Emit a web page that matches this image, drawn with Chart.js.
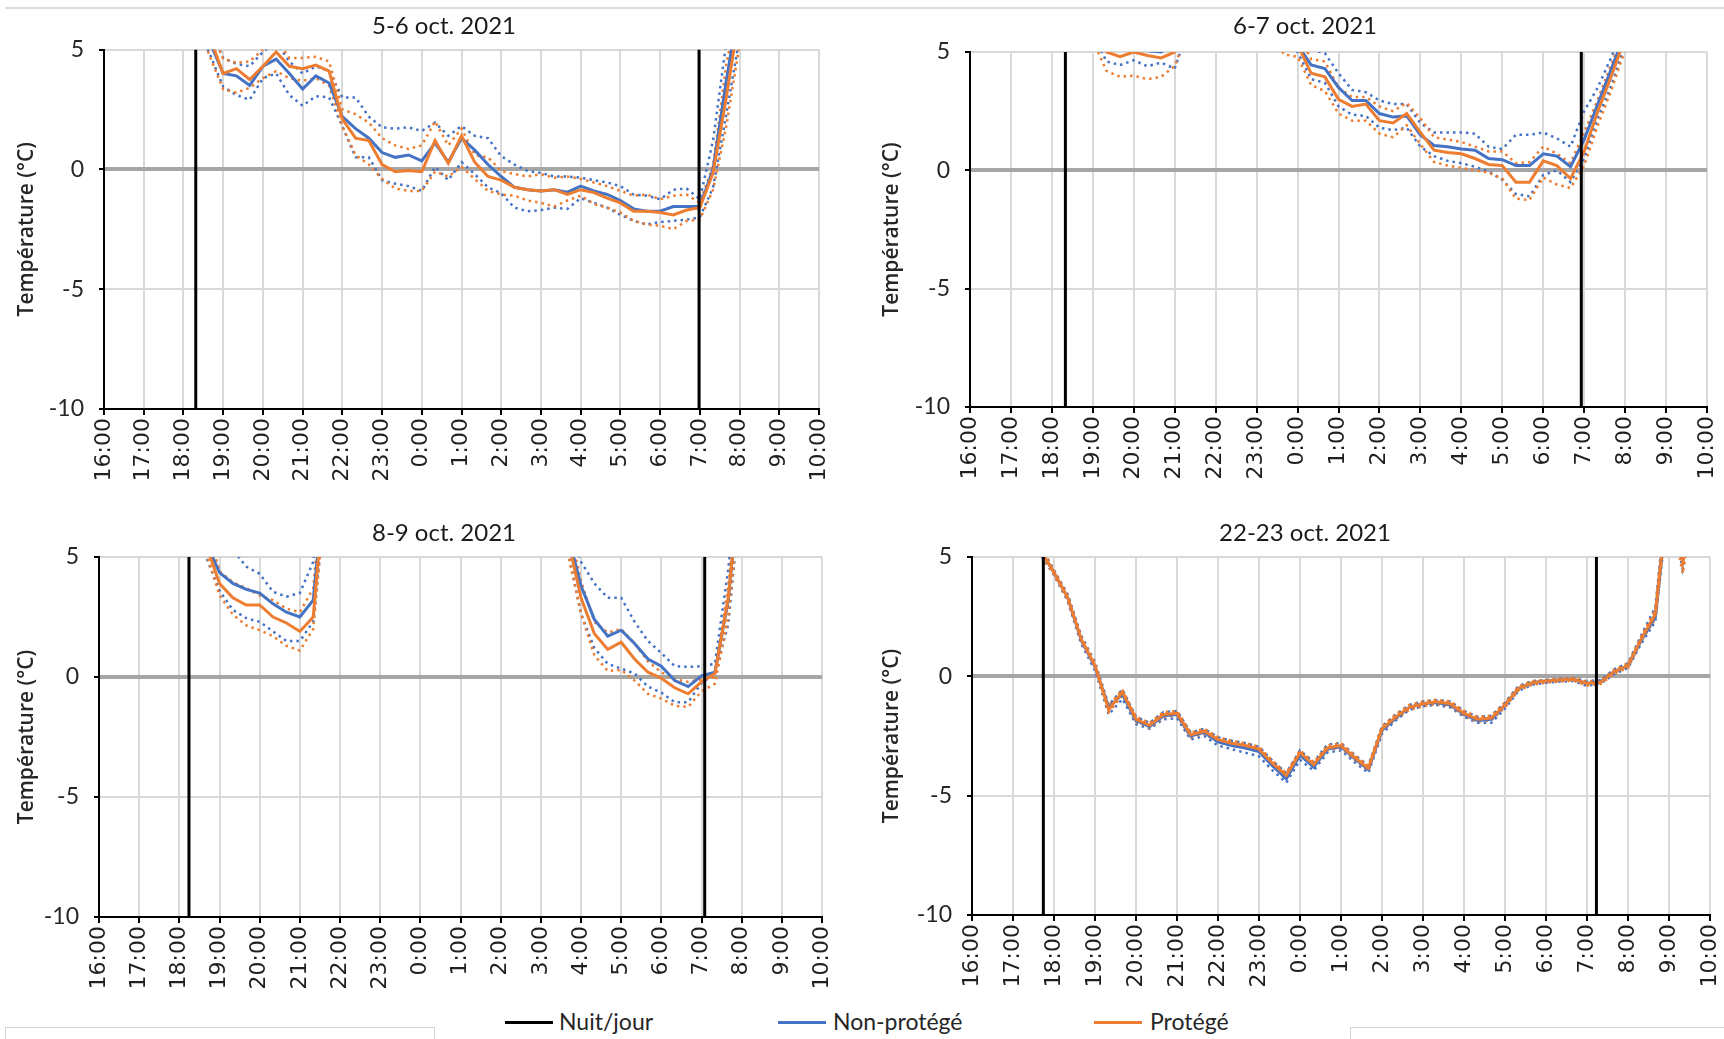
<!DOCTYPE html>
<html>
<head>
<meta charset="utf-8">
<title>Température nuit/jour</title>
<script src="https://cdn.jsdelivr.net/npm/chart.js@4.4.1/dist/chart.umd.min.js"></script>
<style>
	body { margin: 0; width: 1724px; height: 1039px; overflow: hidden; background: #fff; position: relative; }
	canvas { position: absolute; }
	.topline { position: absolute; left: 5px; right: 0; top: 7px; height: 2px; background: #dcdcdc; }
	.box { position: absolute; top: 1027px; height: 30px; border: 1.5px solid #d4d4d4; }
	.key-line { position: absolute; top: 1021px; width: 48px; height: 3px; }
	.key-text { position: absolute; top: 1007px; font: 23px Lato, 'Liberation Sans', sans-serif; color: #262626; white-space: nowrap; }
</style>
</head>
<body>
<div class="topline"></div>

<canvas id="c1" width="888" height="489" style="left:0px;top:0px;width:888px;height:489px"></canvas>
<canvas id="c2" width="870" height="487" style="left:870px;top:0px;width:870px;height:487px"></canvas>
<canvas id="c3" width="888" height="497" style="left:0px;top:500px;width:888px;height:497px"></canvas>
<canvas id="c4" width="870" height="495" style="left:870px;top:500px;width:870px;height:495px"></canvas>

<div class="box" style="left:5px;width:428px"></div>
<div class="box" style="left:1350px;width:380px"></div>

<div class="key-line" style="left:505px;background:#000"></div>
<div class="key-text" style="left:559px">Nuit/jour</div>
<div class="key-line" style="left:778px;background:#4472C4"></div>
<div class="key-text" style="left:833px">Non-protégé</div>
<div class="key-line" style="left:1094px;background:#ED7D31"></div>
<div class="key-text" style="left:1150px">Protégé</div>

<script>
//+++++++++++++++++++++++ Start:data +++++++++++++++++++++++
var hourLabels = ['16:00', '17:00', '18:00', '19:00', '20:00', '21:00', '22:00', '23:00', '0:00', '1:00',
	'2:00', '3:00', '4:00', '5:00', '6:00', '7:00', '8:00', '9:00', '10:00'];
var titles = ['5-6 oct. 2021', '6-7 oct. 2021', '8-9 oct. 2021', '22-23 oct. 2021'];

// x is in hours after 16:00, readings every 20 min
var STEP = 1 / 3;
var seriesStart = [2 + 1 / 3, 3, 2 + 1 / 3, 1 + 1 / 3];
var nightStart = [2.31, 2.33, 2.24, 1.74];
var dayStart = [14.98, 14.93, 15.08, 15.23];

// 5-6 oct., from 18:20
var p1Blue = [6.5, 5.3, 4.0, 3.9, 3.5, 4.3, 4.6, 4.0, 3.35, 3.9, 3.6, 2.2, 1.7, 1.3, 0.7, 0.5, 0.6, 0.35, 1.1, 0.3, 1.3,
	0.8, 0.2, -0.3, -0.75, -0.85, -0.9, -0.85, -0.95, -0.7, -0.9, -1.05, -1.3, -1.65, -1.75, -1.75, -1.55, -1.55, -1.55, 0.0, 3.7, 7.0];
var p1Orange = [6.8, 5.5, 4.0, 4.2, 3.75, 4.3, 4.9, 4.3, 4.2, 4.35, 4.1, 2.1, 1.3, 1.2, 0.2, -0.1, -0.05, -0.1, 1.2, 0.25, 1.4,
	0.3, -0.3, -0.45, -0.75, -0.85, -0.9, -0.85, -1.05, -0.85, -0.97, -1.2, -1.4, -1.75, -1.75, -1.8, -1.9, -1.7, -1.6, -0.15, 3.0, 6.5];
var p1BlueHi = [7.2, 5.8, 4.65, 4.4, 4.3, 4.9, 5.3, 4.5, 4.0, 4.3, 4.1, 3.0, 3.0, 2.2, 1.75, 1.7, 1.75, 1.6, 1.95, 1.4, 1.8,
	1.4, 1.3, 0.55, 0.2, -0.07, -0.15, -0.3, -0.3, -0.35, -0.45, -0.55, -0.7, -1.05, -1.1, -1.25, -0.85, -0.8, -1.25, 1.2, 5.3, 8.0];
var p1BlueLo = [6.0, 4.8, 3.45, 3.1, 2.9, 3.8, 4.0, 3.1, 2.65, 3.05, 3.0, 1.8, 0.5, 0.5, -0.45, -0.6, -0.7, -0.9, 0.1, -0.45, 0.3,
	-0.2, -0.75, -1.0, -1.6, -1.75, -1.7, -1.6, -1.65, -1.2, -1.4, -1.6, -1.9, -2.15, -2.3, -2.2, -2.15, -2.1, -2.0, -0.75, 2.3, 5.5];
var p1OrangeHi = [7.2, 6.0, 4.6, 4.45, 4.5, 5.0, 5.4, 4.65, 4.65, 4.7, 4.5, 2.5, 2.3, 1.95, 1.3, 1.0, 0.85, 1.0, 2.0, 1.0, 1.7,
	0.6, 0.5, -0.07, -0.2, -0.3, -0.2, -0.35, -0.3, -0.4, -0.55, -0.7, -0.9, -1.1, -1.05, -1.25, -1.1, -1.05, -1.4, 0.15, 4.4, 7.0];
var p1OrangeLo = [6.2, 4.7, 3.35, 3.2, 3.4, 3.8, 4.1, 3.8, 3.7, 3.8, 3.5, 1.8, 0.6, 0.2, -0.4, -0.8, -0.9, -0.9, -0.1, -0.3, 0.1,
	-0.4, -0.9, -1.05, -1.1, -1.3, -1.4, -1.55, -1.3, -1.1, -1.45, -1.6, -1.8, -2.15, -2.3, -2.35, -2.5, -2.15, -2.1, -0.85, 1.8, 5.2];

// 6-7 oct., from 19:00
var p2Blue = [6.5, 5.3, 5.1, 5.2, 5.05, 5.0, 5.3, 6.5, null, null, null, null, null, 7.0, 5.8, 5.3, 4.45, 4.3, 3.5, 2.95,
	2.95, 2.4, 2.25, 2.3, 1.5, 1.05, 1.0, 0.9, 0.85, 0.5, 0.45, 0.2, 0.2, 0.7, 0.6, 0.15, 1.3, 2.8, 4.3, 5.8];
var p2Orange = [6.2, 5.0, 4.8, 5.0, 4.85, 4.75, 5.0, 6.5, null, null, null, null, null, 7.0, 5.6, 5.3, 4.1, 3.95, 3.0, 2.7,
	2.8, 2.1, 2.0, 2.4, 1.6, 0.85, 0.75, 0.7, 0.5, 0.25, 0.2, -0.5, -0.5, 0.4, 0.2, -0.35, 0.8, 2.5, 4.0, 5.6];
var p2BlueHi = [7.0, 6.0, 5.9, 6.0, 5.9, 5.8, 6.0, 7.0, null, null, null, null, null, 7.5, 6.5, 6.0, 5.1, 4.95, 4.1, 3.4,
	3.3, 2.95, 2.8, 2.8, 2.0, 1.6, 1.6, 1.6, 1.55, 1.0, 0.9, 1.5, 1.5, 1.6, 1.35, 1.0, 2.5, 3.5, 4.8, 6.2];
var p2BlueLo = [5.8, 4.6, 4.45, 4.65, 4.4, 4.55, 4.3, 6.0, null, null, null, null, null, 6.5, 5.3, 5.0, 3.85, 3.7, 2.7, 2.35,
	2.3, 1.8, 1.7, 1.8, 1.0, 0.6, 0.4, 0.3, 0.15, -0.05, -0.4, -1.0, -1.1, -0.2, 0.0, -0.5, 0.5, 2.2, 3.6, 5.3];
var p2OrangeHi = [7.0, 5.8, 5.6, 5.7, 5.6, 5.4, 5.8, 7.0, null, null, null, null, null, 7.5, 6.2, 5.8, 4.7, 4.6, 3.5, 3.1,
	3.1, 2.7, 2.5, 2.85, 2.2, 1.4, 1.3, 1.2, 1.0, 0.8, 0.8, 0.3, 0.35, 1.0, 0.7, 0.3, 1.6, 3.0, 4.5, 6.0];
var p2OrangeLo = [5.5, 4.2, 3.95, 4.0, 3.85, 3.95, 4.4, 6.0, null, null, null, null, null, 6.0, 4.9, 4.8, 3.6, 3.35, 2.4, 2.1,
	2.1, 1.55, 1.4, 1.9, 1.1, 0.35, 0.2, 0.1, 0.0, -0.1, -0.35, -1.2, -1.25, -0.3, -0.6, -0.75, 0.2, 1.9, 3.4, 5.1];

// 8-9 oct., from 18:20
var p3Blue = [7.5, 5.6, 4.35, 3.9, 3.65, 3.5, 3.05, 2.7, 2.5, 3.2, 9, null, null, null, null, null, null, null, null, null, null,
	null, null, null, null, null, null, 8, 6, 3.8, 2.4, 1.7, 1.95, 1.4, 0.75, 0.45, -0.15, -0.4, 0.05, 0.2, 3.2, 9];
var p3Orange = [7.5, 5.5, 3.9, 3.3, 3.0, 3.0, 2.5, 2.25, 1.9, 2.5, 9, null, null, null, null, null, null, null, null, null, null,
	null, null, null, null, null, null, 8, 5.8, 3.3, 1.8, 1.15, 1.45, 0.75, 0.2, -0.05, -0.45, -0.7, -0.2, 0.15, 3.3, 9];
var p3BlueHi = [8.5, 6.5, 5.8, 5.3, 4.6, 4.3, 3.55, 3.35, 3.5, 4.8, 10, null, null, null, null, null, null, null, null, null, null,
	null, null, null, null, null, null, 9, 6.5, 4.8, 3.9, 3.3, 3.3, 2.3, 1.5, 1.0, 0.45, 0.42, 0.45, 0.55, 4.5, 10];
var p3BlueLo = [7.0, 5.0, 3.6, 2.8, 2.45, 2.3, 1.9, 1.5, 1.5, 2.3, 8, null, null, null, null, null, null, null, null, null, null,
	null, null, null, null, null, null, 7, 5.3, 2.64, 1.2, 0.55, 0.35, 0.15, -0.4, -0.65, -1.05, -1.05, -0.25, 0.14, 2.2, 8];
var p3OrangeHi = [8.0, 6.5, 4.4, 3.95, 3.7, 3.4, 3.2, 2.85, 2.7, 3.7, 10, null, null, null, null, null, null, null, null, null, null,
	null, null, null, null, null, null, 8, 6.5, 4.0, 2.3, 1.85, 2.0, 1.4, 0.65, 0.2, -0.1, -0.2, -0.1, 0.0, 3.8, 9];
var p3OrangeLo = [7.0, 5.2, 3.4, 2.6, 2.15, 1.95, 1.7, 1.3, 1.1, 2.0, 8, null, null, null, null, null, null, null, null, null, null,
	null, null, null, null, null, null, 7, 5.2, 2.64, 0.9, 0.25, 0.3, -0.15, -0.7, -0.9, -1.2, -1.25, -0.6, -0.28, 2.5, 8];

// 22-23 oct., from 17:20
var p4Blue = [7.0, 5.3, 4.35, 3.3, 1.5, 0.4, -1.3, -0.75, -1.85, -2.1, -1.65, -1.6, -2.5, -2.35, -2.75, -2.9, -3.0, -3.15, -3.75, -4.3,
	-3.3, -3.8, -3.05, -2.95, -3.45, -3.9, -2.25, -1.75, -1.3, -1.15, -1.1, -1.2, -1.6, -1.85, -1.8, -1.2, -0.5, -0.27, -0.2, -0.15,
	-0.12, -0.3, -0.22, 0.2, 0.45, 1.55, 2.5, 8, 4.8, 8];
var p4Orange = [7.0, 5.3, 4.35, 3.3, 1.55, 0.45, -1.4, -0.65, -1.8, -2.05, -1.6, -1.55, -2.45, -2.3, -2.65, -2.8, -2.9, -3.05, -3.65, -4.15,
	-3.2, -3.7, -3.0, -2.9, -3.4, -3.85, -2.2, -1.7, -1.3, -1.15, -1.07, -1.15, -1.55, -1.8, -1.75, -1.2, -0.5, -0.27, -0.2, -0.15,
	-0.12, -0.3, -0.25, 0.2, 0.45, 1.6, 2.6, 8, 4.75, 8];
var p4BlueHi = [7.2, 5.5, 4.45, 3.45, 1.7, 0.6, -1.2, -0.55, -1.7, -1.95, -1.5, -1.45, -2.35, -2.2, -2.55, -2.7, -2.8, -2.95, -3.55, -4.05,
	-3.1, -3.6, -2.85, -2.8, -3.3, -3.75, -2.1, -1.6, -1.2, -1.05, -1.0, -1.05, -1.45, -1.7, -1.65, -1.1, -0.4, -0.2, -0.15, -0.1,
	-0.08, -0.2, -0.15, 0.3, 0.55, 1.75, 2.9, 8.5, 5.0, 8.5];
var p4BlueLo = [6.8, 5.1, 4.25, 3.15, 1.35, 0.25, -1.6, -0.95, -2.0, -2.2, -1.8, -1.75, -2.65, -2.5, -2.9, -3.05, -3.2, -3.35, -3.95, -4.45,
	-3.5, -3.95, -3.2, -3.1, -3.6, -4.05, -2.4, -1.85, -1.4, -1.25, -1.2, -1.3, -1.7, -1.95, -1.95, -1.35, -0.6, -0.35, -0.27, -0.22,
	-0.2, -0.4, -0.3, 0.1, 0.35, 1.4, 2.3, 7.5, 4.5, 7.5];
var p4OrangeHi = [7.2, 5.45, 4.45, 3.4, 1.65, 0.55, -1.25, -0.55, -1.7, -1.95, -1.5, -1.45, -2.35, -2.2, -2.55, -2.7, -2.8, -2.95, -3.55, -4.05,
	-3.1, -3.6, -2.9, -2.8, -3.3, -3.75, -2.1, -1.6, -1.2, -1.05, -0.98, -1.05, -1.45, -1.7, -1.65, -1.1, -0.42, -0.2, -0.15, -0.1,
	-0.06, -0.22, -0.17, 0.28, 0.55, 1.7, 2.8, 8.5, 4.9, 8.5];
var p4OrangeLo = [6.8, 5.15, 4.25, 3.2, 1.45, 0.35, -1.5, -0.8, -1.9, -2.15, -1.7, -1.65, -2.55, -2.4, -2.75, -2.9, -3.0, -3.15, -3.75, -4.25,
	-3.3, -3.8, -3.1, -3.0, -3.5, -3.95, -2.3, -1.8, -1.4, -1.25, -1.15, -1.25, -1.65, -1.9, -1.85, -1.3, -0.58, -0.35, -0.27, -0.22,
	-0.18, -0.38, -0.32, 0.12, 0.35, 1.5, 2.4, 7.5, 4.3, 7.5];
//-------------------- End:data --------------------



//+++++++++++++++++++++++ Start:charts +++++++++++++++++++++++
var BLUE = '#4472C4';
var ORANGE = '#ED7D31';
var LABEL_FONT = 'Lato, "Liberation Sans", sans-serif';

var series = [
	[p1Blue, p1Orange, p1BlueHi, p1BlueLo, p1OrangeHi, p1OrangeLo],
	[p2Blue, p2Orange, p2BlueHi, p2BlueLo, p2OrangeHi, p2OrangeLo],
	[p3Blue, p3Orange, p3BlueHi, p3BlueLo, p3OrangeHi, p3OrangeLo],
	[p4Blue, p4Orange, p4BlueHi, p4BlueLo, p4OrangeHi, p4OrangeLo]
];

// canvas box of each panel (pixel placement only)
var panels = [
	{ id: 'c1', yWidth: 104, padRight: 69, titleTop: 11.6, titleBottom: 9.1, yTitlePad: 16 },
	{ id: 'c2', yWidth: 100, padRight: 33, titleTop: 11.6, titleBottom: 11.6, yTitlePad: 10.5 },
	{ id: 'c3', yWidth: 99, padRight: 66, titleTop: 18.6, titleBottom: 9.6, yTitlePad: 16 },
	{ id: 'c4', yWidth: 102, padRight: 30, titleTop: 18.6, titleBottom: 9.6, yTitlePad: 10.5 }
];

function toPoints(start, values) {
	return values.map(function (v, i) {
		return { x: start + i * STEP, y: v };
	});
}

function lineSet(label, start, values, color, width, dotted) {
	return {
		label: label,
		data: toPoints(start, values),
		borderColor: color,
		borderWidth: width,
		borderDash: dotted ? [2.5, 4] : [],
		pointRadius: 0,
		tension: 0,
		clip: 0
	};
}

function nightLine(x) {
	return {
		label: 'Nuit/jour',
		data: [{ x: x, y: -10 }, { x: x, y: 5 }],
		borderColor: '#000',
		borderWidth: 3,
		pointRadius: 0,
		clip: 0
	};
}

function makeChart(p) {
	var cfg = panels[p];
	var s = series[p];
	var t0 = seriesStart[p];

	new Chart(document.getElementById(cfg.id), {
		type: 'line',
		data: {
			// first dataset is drawn on top
			datasets: [
				nightLine(nightStart[p]),
				nightLine(dayStart[p]),
				lineSet('Protégé', t0, s[1], ORANGE, 3, false),
				lineSet('Non-protégé', t0, s[0], BLUE, 3, false),
				lineSet('Protégé max', t0, s[4], ORANGE, 2.5, true),
				lineSet('Protégé min', t0, s[5], ORANGE, 2.5, true),
				lineSet('Non-protégé max', t0, s[2], BLUE, 2.5, true),
				lineSet('Non-protégé min', t0, s[3], BLUE, 2.5, true)
			]
		},
		options: {
			responsive: false,
			animation: false,
			events: [],
			plugins: {
				legend: { display: false },
				tooltip: { enabled: false },
				title: {
					display: true,
					text: titles[p],
					color: '#1a1a1a',
					font: { family: LABEL_FONT, size: 24, weight: 'normal', lineHeight: 1.2 },
					padding: { top: cfg.titleTop, bottom: cfg.titleBottom }
				}
			},
			scales: {
				x: {
					type: 'linear',
					min: 0,
					max: 18,
					afterFit: function (scale) { scale.height = 80; },
					border: { color: '#000', width: 2 },
					grid: { color: '#D9D9D9', lineWidth: 2, tickColor: '#000', tickWidth: 2, tickLength: 6 },
					ticks: {
						stepSize: 1,
						autoSkip: false,
						minRotation: 90,
						maxRotation: 90,
						padding: 3,
						color: '#1f1f1f',
						font: { family: '"DejaVu Sans", sans-serif', size: 22 },
						callback: function (value, index) { return hourLabels[index]; }
					}
				},
				y: {
					min: -10,
					max: 5,
					afterFit: function (scale) { scale.width = cfg.yWidth; },
					border: { color: '#000', width: 2 },
					grid: {
						color: function (c) { return c.tick && c.tick.value === 0 ? '#A6A6A6' : '#D9D9D9'; },
						lineWidth: function (c) { return c.tick && c.tick.value === 0 ? 4 : 2; },
						tickColor: '#000',
						tickWidth: 2,
						tickLength: 5
					},
					ticks: {
						stepSize: 5,
						padding: 15,
						color: '#262626',
						font: { family: LABEL_FONT, size: 23 }
					},
					title: {
						display: true,
						text: 'Température (°C)',
						color: '#262626',
						font: { family: '"Open Sans", sans-serif', size: 21, weight: '600', lineHeight: 1.08 },
						padding: { top: cfg.yTitlePad, bottom: 0 }
					}
				},
				// empty right-hand box: keeps the plot width while the title stays centred on the panel
				yRight: {
					position: 'right',
					min: -10,
					max: 5,
					afterFit: function (scale) { scale.width = cfg.padRight; },
					border: { display: false },
					grid: { display: false, drawTicks: false },
					ticks: { display: false }
				}
			}
		}
	});
}

for (var p = 0; p < panels.length; p++) {
	makeChart(p);
}
//-------------------- End:charts --------------------
</script>
</body>
</html>
